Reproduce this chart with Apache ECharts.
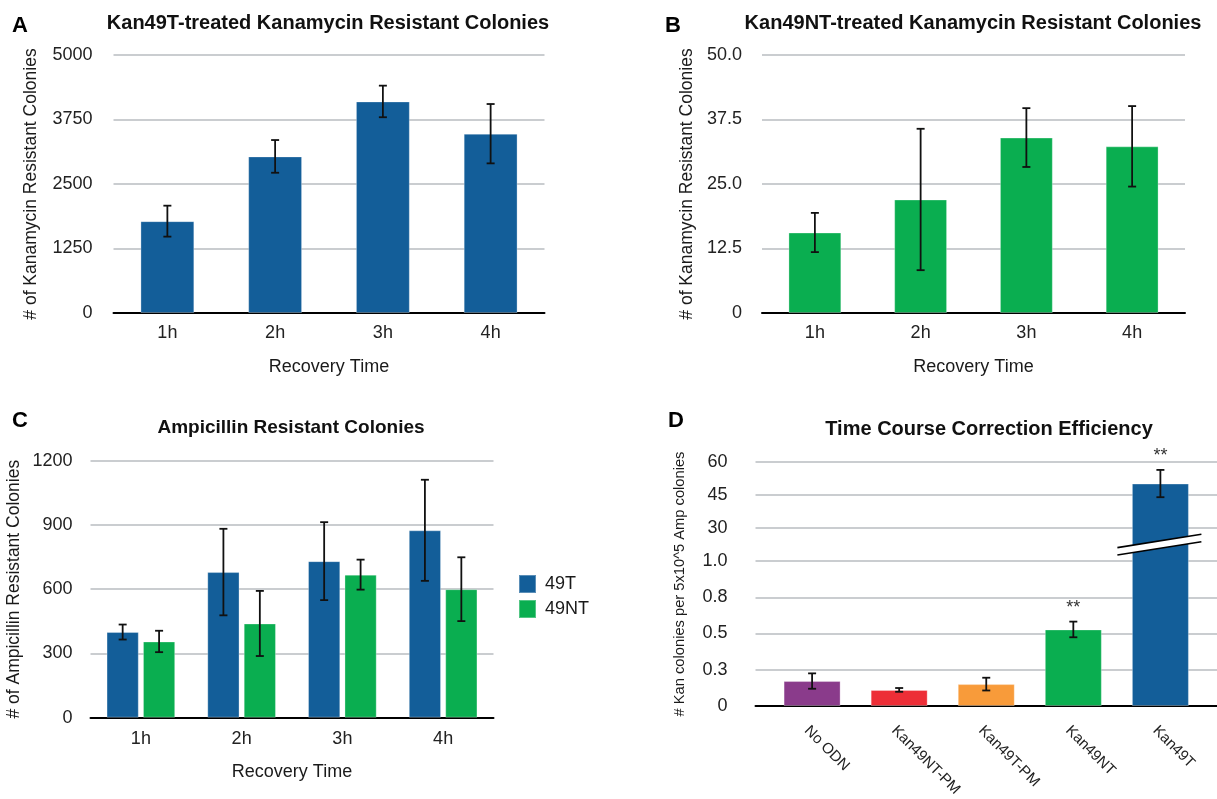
<!DOCTYPE html>
<html><head><meta charset="utf-8">
<script src="https://cdn.jsdelivr.net/npm/echarts@6/dist/echarts.min.js"></script>
<style>html,body{margin:0;padding:0;background:#fff}#c{width:1217px;height:799px}</style>
</head><body><div id="c"></div>
<script>
// ---------- data ----------
const timeCats = ['1h', '2h', '3h', '4h'];
// Panel A
const kanT = [1780, 3035, 4100, 3475];
const kanTErr = [300, 317, 306, 575];
// Panel B
const kanNT = [15.6, 22.0, 34.0, 32.3];
const kanNTErr = [3.8, 13.7, 5.7, 7.8];
// Panel C
const amp49T = [400, 680, 731, 875];
const amp49TErr = [35, 202, 182, 236];
const amp49NT = [356, 440, 668, 600];
const amp49NTErr = [50, 152, 70, 149];
// Panel D
const dCats = ['No ODN', 'Kan49NT-PM', 'Kan49T-PM', 'Kan49NT', 'Kan49T'];
const dVals = [0.172, 0.111, 0.151, 0.528, 50.2];
const dErr = [0.053, 0.013, 0.044, 0.054, 6.2];
const dSig = ['', '', '', '**', '**'];
const dTickValues = [0, 0.25, 0.5, 0.75, 1, 30, 45, 60];
const dTickLabels = ['0', '0.3', '0.5', '0.8', '1.0', '30', '45', '60'];

// ---------- styles ----------
const FONT = '"Liberation Sans", Arial, Helvetica, sans-serif';
const TXT = '#1a1a1a';
const BLUE = '#135e99', GREEN = '#0aae50';
const dColors = ['#8a3b8b', '#ed2e37', '#f89b3a', GREEN, BLUE];
const GRIDC = '#b9bcc1';

// broken axis mapping for panel D (0..1 linear, break, 30..60 linear)
const UP = 33 / 145;
function dMap(v) { return v <= 1 ? v : 1 + UP + (v - 30) / 15 * UP; }
const dTickPos = dTickValues.map(dMap);
const dMax = dMap(60);

function errRender(offsetFrac, capHalf, sigArr) {
  return function (params, api) {
    const x = api.value(0), lo = api.value(1), hi = api.value(2);
    const bw = api.size([1, 0])[0];
    const p1 = api.coord([x, lo]), p2 = api.coord([x, hi]);
    const cx = p1[0] + offsetFrac * bw;
    const st = { stroke: '#111', lineWidth: 1.8 };
    const ch = [
      { type: 'line', shape: { x1: cx, y1: p1[1], x2: cx, y2: p2[1] }, style: st },
      { type: 'line', shape: { x1: cx - capHalf, y1: p1[1], x2: cx + capHalf, y2: p1[1] }, style: st },
      { type: 'line', shape: { x1: cx - capHalf, y1: p2[1], x2: cx + capHalf, y2: p2[1] }, style: st }
    ];
    if (sigArr && sigArr[params.dataIndex]) {
      ch.push({ type: 'text', style: { x: cx, y: p2[1] - 5, text: sigArr[params.dataIndex],
        fill: '#333', font: '18px ' + FONT, align: 'center', verticalAlign: 'bottom' } });
    }
    return { type: 'group', children: ch };
  };
}
function errData(vals, errs, map) {
  map = map || (v => v);
  return vals.map((v, i) => [i, map(v - errs[i]), map(v + errs[i])]);
}

const axisLineBlack = { show: true, lineStyle: { color: '#000', width: 2 } };
const labelStyle = { color: '#222', fontSize: 18, fontFamily: FONT };
const nameStyle = { color: TXT, fontSize: 17.5, fontFamily: FONT };

function catX(gridIndex, gap, nameGap) {
  return {
    type: 'category', gridIndex, data: timeCats,
    axisLine: axisLineBlack, axisTick: { show: false },
    axisLabel: Object.assign({ margin: gap }, labelStyle),
    name: 'Recovery Time', nameLocation: 'middle', nameGap, nameTextStyle: Object.assign({}, nameStyle, { fontSize: 18 }),
    nameMoveOverlap: false
  };
}
function valY(gridIndex, max, interval, name, nameGap, margin, fmt) {
  return {
    type: 'value', gridIndex, min: 0, max, interval,
    axisLine: { show: false }, axisTick: { show: false },
    splitLine: { show: true, lineStyle: { color: GRIDC, width: 1.5 } },
    axisLabel: Object.assign({ margin, formatter: fmt || (v => String(v)) }, labelStyle),
    name, nameLocation: 'middle', nameGap, nameTextStyle: nameStyle, nameMoveOverlap: false
  };
}

const titleStyle = (size) => ({ color: '#111', fontSize: size, fontWeight: 'bold', fontFamily: FONT });

const option = {
  animation: false,
  backgroundColor: '#fff',
  title: [
    { text: 'Kan49T-treated Kanamycin Resistant Colonies', left: 328, top: 13, textAlign: 'center', padding: 0, textStyle: titleStyle(20) },
    { text: 'Kan49NT-treated Kanamycin Resistant Colonies', left: 973, top: 13, textAlign: 'center', padding: 0, textStyle: titleStyle(20) },
    { text: 'Ampicillin Resistant Colonies', left: 291, top: 418, textAlign: 'center', padding: 0, textStyle: titleStyle(19) },
    { text: 'Time Course Correction Efficiency', left: 989, top: 419, textAlign: 'center', padding: 0, textStyle: titleStyle(20) }
  ],
  graphic: [
    { type: 'text', left: 12, top: 15, style: { text: 'A', font: 'bold 22px ' + FONT, fill: '#000' } },
    { type: 'text', left: 665, top: 15, style: { text: 'B', font: 'bold 22px ' + FONT, fill: '#000' } },
    { type: 'text', left: 12, top: 410, style: { text: 'C', font: 'bold 22px ' + FONT, fill: '#000' } },
    { type: 'text', left: 668, top: 410, style: { text: 'D', font: 'bold 22px ' + FONT, fill: '#000' } }
  ],
  legend: {
    orient: 'vertical', left: 513, top: 569, itemWidth: 17, itemHeight: 18, itemGap: 5,
    icon: 'rect', data: ['49T', '49NT'],
    textStyle: { color: TXT, fontSize: 18, fontFamily: FONT, padding: [0, 0, 0, 4] }
  },
  grid: [
    { left: 113.5, top: 55, width: 431, height: 258, outerBoundsMode: 'none', containLabel: false },
    { left: 762, top: 55, width: 423, height: 258, outerBoundsMode: 'none', containLabel: false },
    { left: 90.5, top: 460.7, width: 403, height: 257, outerBoundsMode: 'none', containLabel: false },
    { left: 755.5, top: 462, width: 461.5, height: 244, outerBoundsMode: 'none', containLabel: false }
  ],
  xAxis: [
    catX(0, 11, 45),
    catX(1, 11, 45),
    catX(2, 12, 45),
    {
      type: 'value', gridIndex: 3, min: -0.65, max: 4.65,
      axisLine: axisLineBlack, axisTick: { show: false }, splitLine: { show: false },
      axisLabel: { customValues: [0, 1, 2, 3, 4], formatter: v => dCats[Math.round(v)], rotate: -45,
        verticalAlign: 'top', margin: 17, color: '#222', fontSize: 15, fontFamily: FONT }
    }
  ],
  yAxis: [
    valY(0, 5000, 1250, '# of Kanamycin Resistant Colonies', 73, 21),
    valY(1, 50, 12.5, '# of Kanamycin Resistant Colonies', 66, 20, v => v === 0 ? '0' : v.toFixed(1)),
    valY(2, 1200, 300, '# of Ampicillin Resistant Colonies', 67, 18),
    {
      type: 'value', gridIndex: 3, min: 0, max: dMax,
      axisLine: { show: false },
      axisTick: { show: false, customValues: dTickPos },
      splitLine: { show: true, lineStyle: { color: GRIDC, width: 1.5 } },
      axisLabel: Object.assign({ margin: 28, customValues: dTickPos,
        formatter: v => { const i = dTickPos.findIndex(p => Math.abs(p - v) < 1e-6); return i >= 0 ? dTickLabels[i] : ''; } }, labelStyle),
      name: '# Kan colonies per 5x10^5 Amp colonies', nameLocation: 'middle', nameGap: 68, nameMoveOverlap: false,
      nameTextStyle: { color: TXT, fontSize: 14.7, fontFamily: FONT }
    }
  ],
  series: [
    { type: 'bar', xAxisIndex: 0, yAxisIndex: 0, data: kanT, barWidth: '50%',
      itemStyle: { color: BLUE, borderColor: 'rgba(255,255,255,0.3)', borderWidth: 1 } },
    { type: 'custom', xAxisIndex: 0, yAxisIndex: 0, renderItem: errRender(0, 4), data: errData(kanT, kanTErr), encode: { x: 0, y: [1, 2] }, z: 5 },

    { type: 'bar', xAxisIndex: 1, yAxisIndex: 1, data: kanNT, barWidth: '50%',
      itemStyle: { color: GREEN, borderColor: 'rgba(255,255,255,0.3)', borderWidth: 1 } },
    { type: 'custom', xAxisIndex: 1, yAxisIndex: 1, renderItem: errRender(0, 4), data: errData(kanNT, kanNTErr), encode: { x: 0, y: [1, 2] }, z: 5 },

    { name: '49T', type: 'bar', xAxisIndex: 2, yAxisIndex: 2, data: amp49T, barWidth: '32%', barGap: '13%',
      itemStyle: { color: BLUE, borderColor: 'rgba(255,255,255,0.3)', borderWidth: 1 } },
    { name: '49NT', type: 'bar', xAxisIndex: 2, yAxisIndex: 2, data: amp49NT, barWidth: '32%', barGap: '13%',
      itemStyle: { color: GREEN, borderColor: 'rgba(255,255,255,0.3)', borderWidth: 1 } },
    { type: 'custom', xAxisIndex: 2, yAxisIndex: 2, renderItem: errRender(-0.1808, 4), data: errData(amp49T, amp49TErr), encode: { x: 0, y: [1, 2] }, z: 5 },
    { type: 'custom', xAxisIndex: 2, yAxisIndex: 2, renderItem: errRender(0.1808, 4), data: errData(amp49NT, amp49NTErr), encode: { x: 0, y: [1, 2] }, z: 5 },

    { type: 'bar', xAxisIndex: 3, yAxisIndex: 3, barWidth: 57,
      data: dVals.map((v, i) => ({ value: [i, dMap(v)], itemStyle: { color: dColors[i] } })),
      itemStyle: { borderColor: 'rgba(255,255,255,0.3)', borderWidth: 1 } },
    { type: 'custom', xAxisIndex: 3, yAxisIndex: 3, renderItem: errRender(0, 4, dSig),
      data: errData(dVals, dErr, dMap), encode: { x: 0, y: [1, 2] }, z: 5 },
    // axis-break mark on the Kan49T bar
    { type: 'custom', xAxisIndex: 3, yAxisIndex: 3, z: 6, data: [[4, 1 + UP / 2]], encode: { x: 0, y: 1 },
      renderItem: function (params, api) {
        const c = api.coord([api.value(0), api.value(1)]);
        const L = 43, R = 41, k = -0.159, h = 3.7;
        const yU = dx => c[1] - h + k * dx, yL = dx => c[1] + h + k * dx;
        const st = { stroke: '#000', lineWidth: 1.6 };
        return { type: 'group', children: [
          { type: 'polygon', shape: { points: [[c[0] - L, yU(-L)], [c[0] + R, yU(R)], [c[0] + R, yL(R)], [c[0] - L, yL(-L)]] }, style: { fill: '#fff' } },
          { type: 'line', shape: { x1: c[0] - L, y1: yU(-L), x2: c[0] + R, y2: yU(R) }, style: st },
          { type: 'line', shape: { x1: c[0] - L, y1: yL(-L), x2: c[0] + R, y2: yL(R) }, style: st }
        ] };
      } }
  ]
};

const chart = echarts.init(document.getElementById('c'), null, { renderer: 'canvas' });
chart.setOption(option);
</script>
</body></html>
